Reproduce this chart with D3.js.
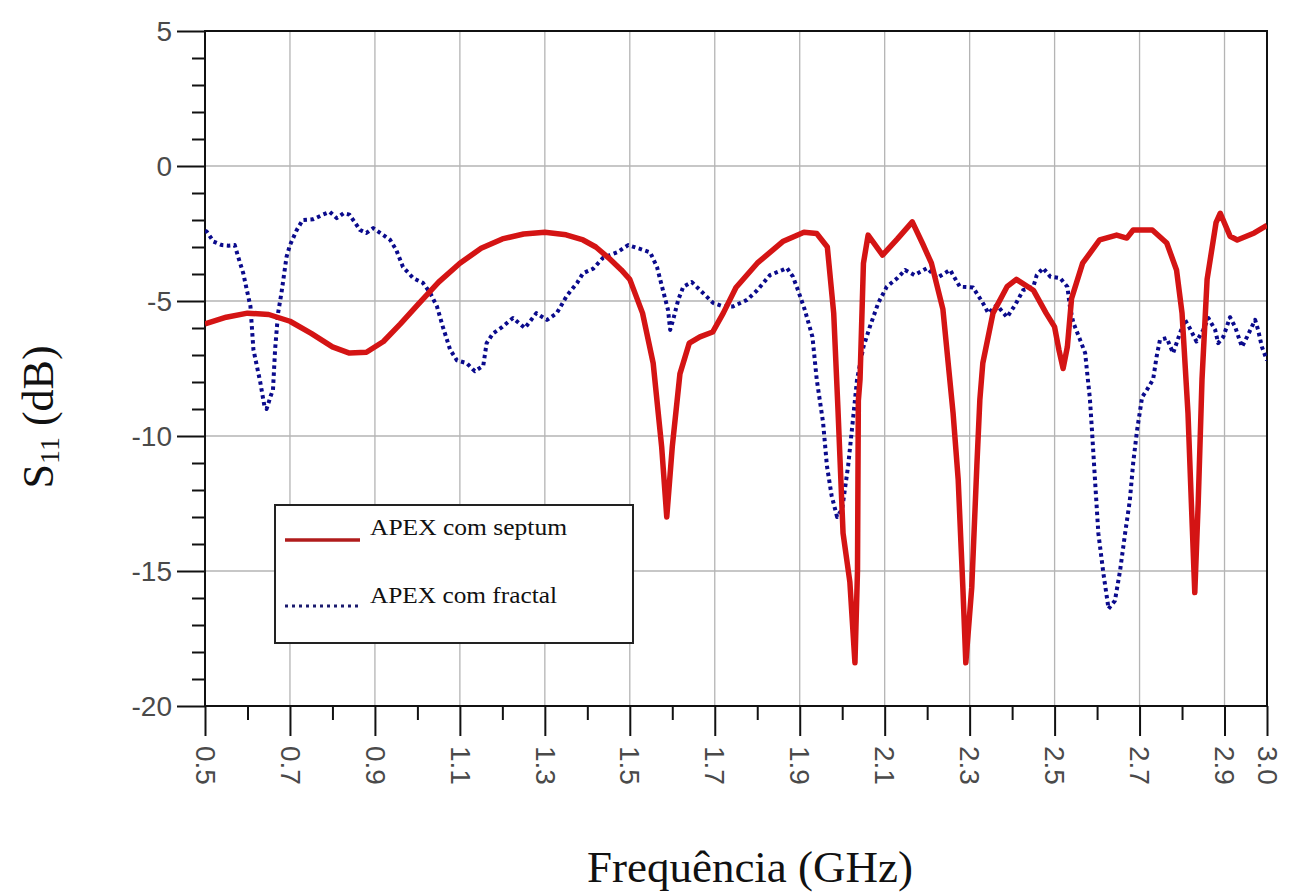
<!DOCTYPE html>
<html>
<head>
<meta charset="utf-8">
<script src="https://cdn.jsdelivr.net/npm/d3@7"></script>
<style>
  html, body { margin: 0; padding: 0; background: #fff; }
  svg { display: block; }
</style>
</head>
<body>
<svg id="chart" width="1300" height="895"></svg>
<script>
// ---------- data ----------
const freqSeptum = [0.5,0.55,0.6,0.65,0.7,0.75,0.8,0.84,0.88,0.92,0.96,1.0,1.05,1.1,1.15,1.2,1.25,1.3,1.35,1.39,1.42,1.45,1.48,1.5,1.53,1.555,1.575,1.587,1.60,1.618,1.64,1.665,1.695,1.72,1.75,1.8,1.86,1.91,1.94,1.965,1.98,1.99,2.002,2.018,2.03,2.036,2.038,2.042,2.05,2.061,2.095,2.13,2.165,2.19,2.21,2.237,2.261,2.273,2.284,2.291,2.305,2.317,2.324,2.331,2.355,2.388,2.41,2.45,2.48,2.5,2.51,2.52,2.53,2.54,2.566,2.606,2.646,2.67,2.685,2.73,2.764,2.787,2.8,2.814,2.822,2.83,2.838,2.847,2.859,2.88,2.89,2.913,2.93,2.97,3.0];
const s11Septum = [-5.85,-5.6,-5.45,-5.5,-5.75,-6.2,-6.7,-6.93,-6.9,-6.5,-5.85,-5.15,-4.3,-3.6,-3.05,-2.7,-2.52,-2.45,-2.55,-2.74,-3.0,-3.4,-3.85,-4.2,-5.45,-7.3,-10.4,-13.0,-10.4,-7.7,-6.56,-6.33,-6.15,-5.45,-4.5,-3.6,-2.8,-2.45,-2.5,-3.0,-5.45,-9.0,-13.6,-15.4,-18.4,-15.0,-8.7,-7.9,-3.6,-2.56,-3.3,-2.7,-2.07,-2.9,-3.6,-5.3,-9.15,-11.6,-15.6,-18.4,-15.6,-11.1,-8.67,-7.3,-5.45,-4.47,-4.2,-4.6,-5.45,-5.96,-6.8,-7.5,-6.7,-4.9,-3.6,-2.74,-2.56,-2.67,-2.37,-2.37,-2.85,-3.85,-5.45,-9.15,-12.5,-15.8,-12.5,-7.9,-4.2,-2.1,-1.75,-2.6,-2.74,-2.48,-2.2];

const freqFractal = [0.5,0.504,0.52,0.54,0.555,0.57,0.578,0.59,0.6,0.607,0.614,0.63,0.64,0.645,0.655,0.66,0.665,0.672,0.68,0.692,0.7,0.716,0.73,0.755,0.778,0.794,0.81,0.826,0.84,0.865,0.88,0.896,0.92,0.936,0.95,0.966,0.99,1.013,1.03,1.046,1.06,1.077,1.093,1.116,1.135,1.155,1.163,1.178,1.2,1.225,1.253,1.28,1.305,1.328,1.352,1.376,1.39,1.414,1.437,1.47,1.496,1.524,1.548,1.564,1.578,1.59,1.595,1.602,1.614,1.626,1.646,1.672,1.696,1.72,1.743,1.776,1.8,1.83,1.86,1.87,1.884,1.896,1.912,1.93,1.94,1.955,1.964,1.975,1.988,2.0,2.014,2.022,2.03,2.035,2.05,2.065,2.085,2.105,2.13,2.148,2.17,2.2,2.223,2.254,2.277,2.308,2.331,2.344,2.364,2.388,2.407,2.426,2.45,2.458,2.473,2.49,2.513,2.53,2.536,2.544,2.56,2.572,2.576,2.583,2.588,2.595,2.603,2.615,2.627,2.642,2.654,2.666,2.677,2.685,2.694,2.706,2.717,2.732,2.74,2.748,2.764,2.779,2.795,2.807,2.818,2.834,2.85,2.862,2.878,2.885,2.897,2.913,2.925,2.941,2.953,2.972,2.979,2.988,3.0];
const s11Fractal = [-2.4,-2.43,-2.8,-2.93,-2.95,-2.93,-3.36,-3.97,-4.7,-5.2,-6.8,-8.0,-8.9,-9.0,-8.5,-8.3,-6.8,-5.45,-4.7,-3.36,-2.93,-2.37,-2.0,-1.97,-1.8,-1.7,-1.93,-1.75,-1.8,-2.37,-2.48,-2.3,-2.56,-2.74,-3.1,-3.74,-4.15,-4.33,-4.7,-5.2,-5.96,-6.8,-7.2,-7.3,-7.6,-7.4,-6.56,-6.2,-5.96,-5.63,-6.0,-5.45,-5.7,-5.45,-4.8,-4.33,-3.97,-3.8,-3.4,-3.2,-2.93,-3.07,-3.2,-3.74,-4.6,-5.33,-6.07,-5.7,-4.96,-4.47,-4.3,-4.7,-5.07,-5.2,-5.2,-4.96,-4.6,-4.04,-3.85,-3.78,-4.1,-4.6,-5.33,-6.33,-7.9,-9.5,-11.1,-12.2,-13.0,-12.7,-11.1,-9.9,-8.67,-7.9,-6.7,-5.96,-5.07,-4.47,-4.15,-3.85,-4.04,-3.78,-4.15,-3.85,-4.47,-4.5,-5.07,-5.45,-5.15,-5.6,-5.15,-4.6,-4.47,-4.04,-3.78,-4.1,-4.15,-4.47,-5.2,-5.8,-6.44,-6.93,-7.56,-8.6,-9.8,-11.6,-13.6,-15.1,-16.4,-16.1,-15.0,-13.6,-12.4,-11.0,-9.8,-8.56,-8.3,-7.9,-7.07,-6.44,-6.37,-6.93,-6.2,-5.7,-6.0,-6.5,-6.07,-5.63,-6.07,-6.56,-6.33,-5.6,-5.96,-6.7,-6.33,-5.7,-6.07,-6.7,-7.2];

const xMajorTicks = [0.5,0.7,0.9,1.1,1.3,1.5,1.7,1.9,2.1,2.3,2.5,2.7,2.9,3.0];
const xTickLabels = ["0.5","0.7","0.9","1.1","1.3","1.5","1.7","1.9","2.1","2.3","2.5","2.7","2.9","3.0"];
const xMinorTicks = [0.6,0.8,1.0,1.2,1.4,1.6,1.8,2.0,2.2,2.4,2.6,2.8];
const xGridTicks = [0.7,0.9,1.1,1.3,1.5,1.7,1.9,2.1,2.3,2.5,2.7,2.9];
const yMajorTicks = [5,0,-5,-10,-15,-20];
const yTickLabels = ["5","0","-5","-10","-15","-20"];
const yMinorTicks = [4,3,2,1,-1,-2,-3,-4,-6,-7,-8,-9,-11,-12,-13,-14,-16,-17,-18,-19];
const yGridTicks = [0,-5,-10,-15];
const seriesNames = ["APEX com septum","APEX com fractal"];

// ---------- layout ----------
const L = 205, R = 1267, T = 31, B = 706;
const svg = d3.select("#chart");
const x = d3.scaleLinear().domain([0.5, 3.0]).range([L, R]);
const y = d3.scaleLinear().domain([-20, 5]).range([B, T]);

const tickFont = "'Liberation Sans', Arial, sans-serif";
const serif = "'Liberation Serif', 'Times New Roman', serif";

// grid
svg.append("g").selectAll("line").data(xGridTicks).join("line")
  .attr("x1", d => x(d)).attr("x2", d => x(d)).attr("y1", T).attr("y2", B)
  .attr("stroke", "#b4b4b4").attr("stroke-width", 1.3);
svg.append("g").selectAll("line").data(yGridTicks).join("line")
  .attr("x1", L).attr("x2", R).attr("y1", d => y(d)).attr("y2", d => y(d))
  .attr("stroke", "#b4b4b4").attr("stroke-width", 1.3);

// x axis (bottom) with outward ticks
const xAxisMajor = d3.axisBottom(x).tickValues(xMajorTicks).tickSize(30).tickFormat((d, i) => xTickLabels[i]);
const gx = svg.append("g").attr("transform", `translate(0,${B})`).call(xAxisMajor);
gx.select(".domain").remove();
gx.selectAll(".tick line").attr("stroke", "#111").attr("stroke-width", 2);
gx.selectAll(".tick text")
  .attr("font-family", tickFont).attr("font-size", 28).attr("fill", "#4a4a4a")
  .attr("transform", "rotate(90)")
  .attr("x", 40).attr("y", 0).attr("dy", "0.35em")
  .attr("text-anchor", "start");
const gxm = svg.append("g").attr("transform", `translate(0,${B})`)
  .call(d3.axisBottom(x).tickValues(xMinorTicks).tickSize(14).tickFormat(""));
gxm.select(".domain").remove();
gxm.selectAll(".tick line").attr("stroke", "#111").attr("stroke-width", 2);

// y axis (left) with outward ticks
const yAxisMajor = d3.axisLeft(y).tickValues(yMajorTicks).tickSize(28).tickFormat((d, i) => yTickLabels[i]);
const gy = svg.append("g").attr("transform", `translate(${L},0)`).call(yAxisMajor);
gy.select(".domain").remove();
gy.selectAll(".tick line").attr("stroke", "#111").attr("stroke-width", 2);
gy.selectAll(".tick text")
  .attr("font-family", tickFont).attr("font-size", 28).attr("fill", "#4a4a4a")
  .attr("x", -33).attr("dy", "0.35em");
const gym = svg.append("g").attr("transform", `translate(${L},0)`)
  .call(d3.axisLeft(y).tickValues(yMinorTicks).tickSize(13).tickFormat(""));
gym.select(".domain").remove();
gym.selectAll(".tick line").attr("stroke", "#111").attr("stroke-width", 2);

// frame
svg.append("rect").attr("x", L).attr("y", T).attr("width", R - L).attr("height", B - T)
  .attr("fill", "none").attr("stroke", "#111").attr("stroke-width", 2);

// clip
svg.append("clipPath").attr("id", "plotclip").append("rect")
  .attr("x", L).attr("y", T).attr("width", R - L).attr("height", B - T);

const line = d3.line().x(d => x(d[0])).y(d => y(d[1]));
const fractalData = freqFractal.map((f, i) => [f, s11Fractal[i]]);
const septumData = freqSeptum.map((f, i) => [f, s11Septum[i]]);

const plot = svg.append("g").attr("clip-path", "url(#plotclip)");
plot.append("path").datum(fractalData).attr("d", line)
  .attr("fill", "none").attr("stroke", "#0a0a8c").attr("stroke-width", 4)
  .attr("stroke-dasharray", "3.5,3.5").attr("stroke-linejoin", "round");
plot.append("path").datum(septumData).attr("d", line)
  .attr("fill", "none").attr("stroke", "#d41414").attr("stroke-width", 5.5)
  .attr("stroke-linejoin", "round");

// legend
const lg = svg.append("g");
lg.append("rect").attr("x", 275).attr("y", 505).attr("width", 358).attr("height", 138)
  .attr("fill", "#fff").attr("stroke", "#222").attr("stroke-width", 2);
lg.append("line").attr("x1", 285).attr("x2", 360).attr("y1", 540).attr("y2", 540)
  .attr("stroke", "#b01c1c").attr("stroke-width", 3.5);
lg.append("line").attr("x1", 285).attr("x2", 360).attr("y1", 606).attr("y2", 606)
  .attr("stroke", "#1a1a6e").attr("stroke-width", 3).attr("stroke-dasharray", "3,4");
lg.append("text").attr("x", 370).attr("y", 535).text(seriesNames[0])
  .attr("font-family", serif).attr("font-size", 23).attr("fill", "#111")
  .attr("textLength", 197).attr("lengthAdjust", "spacingAndGlyphs");
lg.append("text").attr("x", 370).attr("y", 603).text(seriesNames[1])
  .attr("font-family", serif).attr("font-size", 23).attr("fill", "#111")
  .attr("textLength", 187).attr("lengthAdjust", "spacingAndGlyphs");

// axis titles
svg.append("text").attr("x", 750).attr("y", 882).attr("text-anchor", "middle")
  .attr("font-family", serif).attr("font-size", 45).attr("fill", "#111")
  .text("Frequência (GHz)");

const yt = svg.append("text")
  .attr("transform", "translate(53,417) rotate(-90)")
  .attr("text-anchor", "middle")
  .attr("font-family", serif).attr("font-size", 44).attr("fill", "#111");
yt.append("tspan").text("S");
yt.append("tspan").attr("font-size", 28).attr("dy", 6).text("11");
yt.append("tspan").attr("dy", -6).text(" (dB)");
</script>
</body>
</html>
